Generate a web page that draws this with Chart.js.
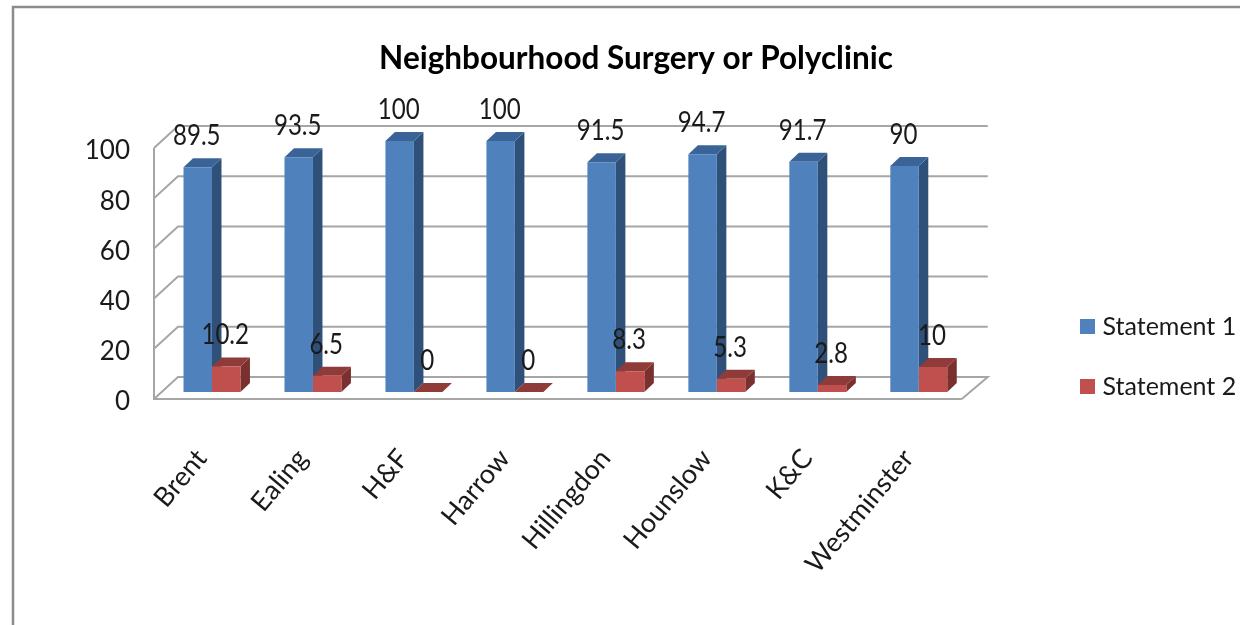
<!DOCTYPE html>
<html><head><meta charset="utf-8">
<style>html,body{margin:0;padding:0;background:#fff}#w{position:absolute;left:0;top:0;width:1240px;height:625px}</style>
<script src="https://cdn.jsdelivr.net/npm/chart.js@4"></script>
</head><body><div id="w"><canvas id="c" width="1240" height="625"></canvas></div>
<script>
const categories = ['Brent','Ealing','H&F','Harrow','Hillingdon','Hounslow','K&C','Westminster'];
const statement1 = [89.5,93.5,100,100,91.5,94.7,91.7,90];
const statement2 = [10.2,6.5,0,0,8.3,5.3,2.8,10];
const FONT = 'Lato,"Noto Sans",sans-serif';
const faces = [{top:'#3a6497',side:'#2f5179'},{top:'#8f3b39',side:'#79302e'}];
const OFF = {x:7.5,y:-7}, DEPTH = {x:9.5,y:-9}, BACK = {x:24,y:-22}, RIGHT_EDGE_BACK = 26;

const scene = {
  id:'scene',
  afterLayout(chart){
    const l = chart.legend;
    const w = l.width, h = l.height;
    l.left = 1050; l.right = l.left + w; l.top = 279; l.bottom = l.top + h;
    const t = chart.titleBlock;
    const dx = 636 - (t.left + t.right) / 2;
    t.left += dx; t.right += dx;
  },
  beforeDraw(chart){
    const c = chart.ctx;
    c.save();
    c.strokeStyle = '#8c8c8c'; c.lineWidth = 2.5;
    c.beginPath(); c.moveTo(13,625); c.lineTo(13,7); c.lineTo(1240,7); c.stroke();
    c.restore();
  },
  beforeDatasetsDraw(chart){
    const c = chart.ctx, a = chart.chartArea, ys = chart.scales.y;
    c.save();
    c.strokeStyle = '#a6a6a6'; c.lineWidth = 2;
    ys.ticks.forEach(t=>{
      const y = ys.getPixelForValue(t.value);
      c.beginPath(); c.moveTo(a.left,y); c.lineTo(a.left+BACK.x,y+BACK.y);
      c.lineTo(a.right+RIGHT_EDGE_BACK,y+BACK.y);
      if (t.value===0) c.lineTo(a.right,y);
      c.stroke();
    });
    c.beginPath(); c.moveTo(a.left,a.top); c.lineTo(a.left,a.bottom); c.lineTo(a.right,a.bottom); c.stroke();
    chart.data.datasets.forEach((d,i)=>{
      chart.getDatasetMeta(i).data.forEach(el=>{
        const p = el.getProps(['x','y','base','width'],true);
        const l = p.x-p.width/2+OFF.x, r = p.x+p.width/2+OFF.x, t = p.y+OFF.y, b = p.base+OFF.y;
        c.fillStyle = faces[i].side;
        c.beginPath(); c.moveTo(r,t); c.lineTo(r+DEPTH.x,t+DEPTH.y); c.lineTo(r+DEPTH.x,b+DEPTH.y); c.lineTo(r,b); c.closePath(); c.fill();
        c.fillStyle = faces[i].top;
        c.beginPath(); c.moveTo(l,t); c.lineTo(l+DEPTH.x,t+DEPTH.y); c.lineTo(r+DEPTH.x,t+DEPTH.y); c.lineTo(r,t); c.closePath(); c.fill();
      });
    });
    c.restore();
  },
  beforeDatasetDraw(chart){ chart.ctx.save(); chart.ctx.translate(OFF.x,OFF.y); },
  afterDatasetDraw(chart){ chart.ctx.restore(); },
  afterDatasetsDraw(chart){
    const c = chart.ctx;
    c.save();
    c.fillStyle = '#1a1a1a'; c.font = '28px '+FONT; c.textAlign='center'; c.textBaseline='middle';
    chart.data.datasets.forEach((d,i)=>{
      chart.getDatasetMeta(i).data.forEach((el,j)=>{
        const p = el.getProps(['x','y'],true);
        c.save();
        c.translate(p.x+OFF.x-1, p.y+OFF.y-31);
        c.scale(0.86,1);
        c.fillText(String(d.data[j]), 0, 0);
        c.restore();
      });
    });
    c.restore();
  }
};

new Chart(document.getElementById('c'),{
  type:'bar',
  data:{labels:categories,datasets:[
    {label:'Statement 1',data:statement1,backgroundColor:'#4f81bd',borderWidth:0},
    {label:'Statement 2',data:statement2,backgroundColor:'#c0504d',borderWidth:0}
  ]},
  options:{
    responsive:false,animation:false,
    layout:{padding:{left:32,right:82,top:0,bottom:0}},
    datasets:{bar:{categoryPercentage:0.564,barPercentage:1}},
    plugins:{
      tooltip:{enabled:false},
      title:{display:true,text:'Neighbourhood Surgery or Polyclinic',color:'#000',
        font:{family:FONT,size:31.5,weight:'bold'},padding:{top:40,bottom:70.2}},
      legend:{position:'right',align:'start',
        labels:{usePointStyle:true,pointStyle:'rect',boxWidth:5,boxHeight:15,padding:35,color:'#1a1a1a',
          font:{family:FONT,size:25}}}
    },
    scales:{
      x:{grid:{display:false},border:{display:false},
        afterFit(s){s.height=226;},
        ticks:{autoSkip:false,minRotation:50,maxRotation:50,padding:36,labelOffset:-3,color:'#1a1a1a',font:{family:FONT,size:27}}},
      y:{min:0,max:100,grid:{display:false},border:{display:false},
        afterFit(s){s.width=122;},
        ticks:{stepSize:20,padding:16,labelOffset:3,color:'#1a1a1a',font:{family:FONT,size:26}}}
    }
  },
  plugins:[scene]
});
</script></body></html>
